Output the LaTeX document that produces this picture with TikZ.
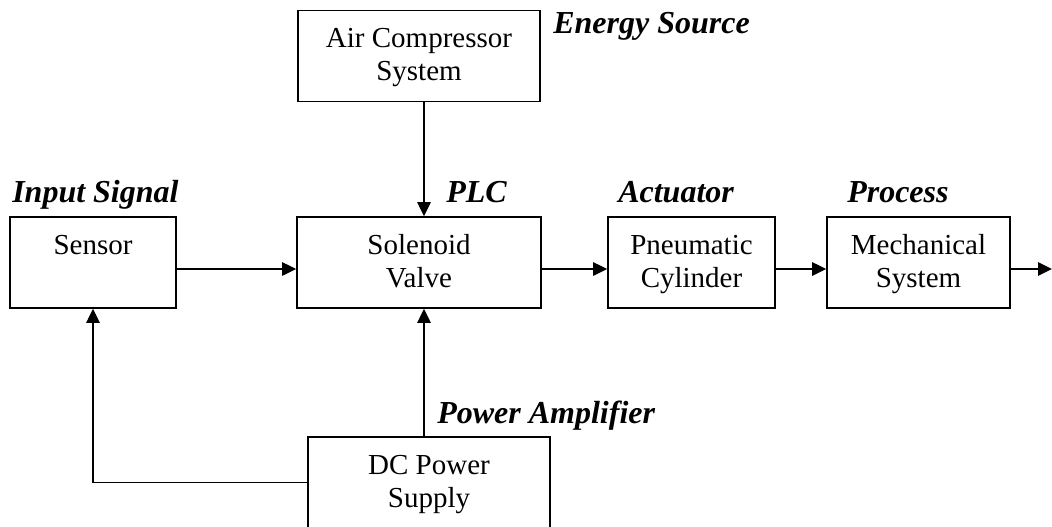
\documentclass[tikz,border=0pt]{standalone}
\usepackage{fontspec}
\setmainfont{Liberation Serif}
\usetikzlibrary{arrows.meta}

\begin{document}
\begin{tikzpicture}[x=0.75pt,y=-0.75pt,
  blk/.style={draw, line width=1.2pt, inner sep=0pt, minimum height=68.25pt, align=center,
    font=\fontsize{21.75}{24.75}\selectfont},
  oneline/.style={blk, text height=15pt, text depth=27.75pt},
  twoline/.style={blk, text height=36.75pt, text depth=0pt},
  tag/.style={anchor=base west, inner sep=0pt, font=\fontsize{24}{28}\selectfont\bfseries\itshape},
  flow/.style={line width=1.2pt, -{Triangle[length=10.5pt,width=10pt]}}]
\useasboundingbox (0,0) rectangle (1052,526);
\clip (0,0) rectangle (1052,526);
\node[oneline, minimum width=124.5pt] (sensor) at (93,262.5) {Sensor};
\node[twoline, minimum width=183pt] (valve) at (419,262.5) {Solenoid\\Valve};
\node[twoline, minimum width=125.25pt] (cyl) at (691.5,262.5) {Pneumatic\\Cylinder};
\node[twoline, minimum width=137.25pt] (mech) at (918.5,262.5) {Mechanical\\System};
\node[twoline, minimum width=181.5pt] (comp) at (419,56) {Air Compressor\\System};
\node[twoline, minimum width=181.5pt] (dc) at (429,482.5) {DC Power\\Supply};
\coordinate (out) at (1052,269);
\node[tag] (lblsrc) at (553,33) {Energy Source};
\node[tag] (lblin) at (12,202) {Input Signal};
\node[tag] (lblplc) at (446,202) {PLC};
\node[tag] (lblact) at (618,202) {Actuator};
\node[tag] (lblproc) at (847,202) {Process};
\node[tag] (lblamp) at (437,423) {Power Amplifier};
\draw[flow] ([yshift=-4.875pt]sensor.east) -- ([yshift=-4.875pt]valve.west);
\draw[flow] ([yshift=-4.875pt]valve.east) -- ([yshift=-4.875pt]cyl.west);
\draw[flow] ([yshift=-4.875pt]cyl.east) -- ([yshift=-4.875pt]mech.west);
\draw[flow] ([yshift=-4.875pt]mech.east) -- (out);
\draw[flow] ([xshift=3.75pt]comp.south) -- ([xshift=3.75pt]valve.north);
\draw[flow] ([xshift=-3.75pt]dc.north) -- ([xshift=3.75pt]valve.south);
\draw[flow] (dc.west) -| (sensor.south);
\end{tikzpicture}
\end{document}
